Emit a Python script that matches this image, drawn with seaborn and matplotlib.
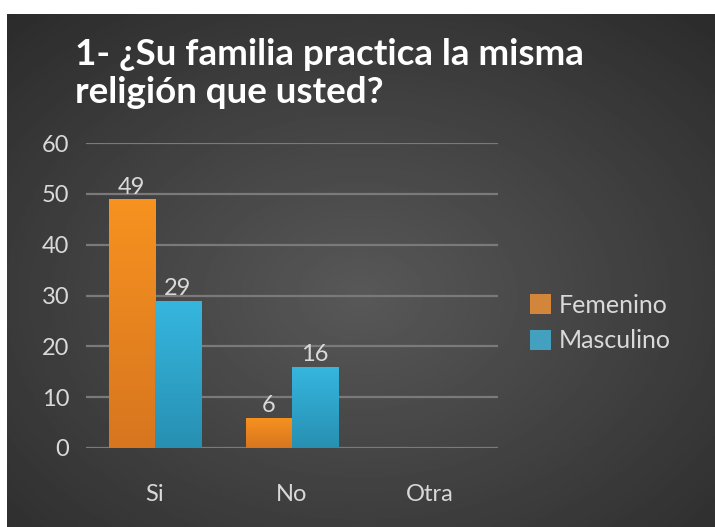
import numpy as np
import pandas as pd
import seaborn as sns
import matplotlib.pyplot as plt

categorias = ["Si", "No", "Otra"]
femenino = [49, 6, np.nan]
masculino = [29, 16, np.nan]
series = ["Femenino", "Masculino"]
titulo = "1- ¿Su familia practica la misma\nreligión que usted?"

df = pd.DataFrame({
    "respuesta": categorias * 2,
    "valor": femenino + masculino,
    "sexo": [series[0]] * 3 + [series[1]] * 3,
}).dropna()

sns.set_theme(style="dark")
plt.rcParams["font.family"] = ["Lato", "DejaVu Sans"]

fig = plt.figure(figsize=(7.15, 5.27), dpi=100, facecolor="white")

# dark background panel with radial gradient
bg = fig.add_axes([7 / 715, 0, 708 / 715, 513 / 527])
bg.set_axis_off()
yy, xx = np.mgrid[0:1:300j, 0:1:400j]
r = np.sqrt(((xx - 0.5) / 0.75) ** 2 + ((yy - 0.45) / 0.75) ** 2)
shade = (0x58 - (0x58 - 0x2b) * np.clip(r, 0, 1)) / 255
bg.imshow(shade, cmap="gray", vmin=0, vmax=1, aspect="auto", extent=[0, 1, 0, 1], origin="lower")

ax = fig.add_axes([86 / 715, 79 / 527, 412 / 715, 305 / 527])
ax.patch.set_alpha(0)
sns.barplot(data=df, x="respuesta", y="valor", hue="sexo", order=categorias,
            hue_order=series, palette=["#EC8522", "#2FAAD3"], width=0.67,
            linewidth=0, ax=ax, zorder=3)

# vertical gradients on bars
grad = [("#D7761F", "#F7921F"), ("#2790B2", "#36B6DF")]
for cont, (c_bot, c_top) in zip(ax.containers, grad):
    cmap = sns.blend_palette([c_bot, c_top], as_cmap=True)
    for p in cont.patches:
        x0, y0 = p.get_x(), p.get_y()
        w, h = p.get_width(), p.get_height()
        if h <= 0:
            continue
        img = ax.imshow(np.linspace(0, 1, 64).reshape(-1, 1), cmap=cmap, aspect="auto",
                        extent=[x0, x0 + w, y0, y0 + h], origin="lower", zorder=4)
        img.set_clip_path(p)
    ax.bar_label(cont, fmt="%g", color="#D9D9D9", fontsize=17, padding=1)

ax.set_xlim(-0.5, 2.5)
ax.set_ylim(0, 60)
ax.set_yticks(range(0, 61, 10))
ax.grid(axis="y", color="#7A7A7A", linewidth=1.6, zorder=1)
ax.grid(axis="x", visible=False)
ax.set_axisbelow(True)
for s in ax.spines.values():
    s.set_visible(False)
ax.set_xlabel("")
ax.set_ylabel("")
ax.tick_params(colors="#D9D9D9", labelsize=17, length=0)
ax.tick_params(axis="y", pad=12)
ax.tick_params(axis="x", pad=26)

leg = ax.legend(loc="center left", bbox_to_anchor=(530 / 715, 1 - 323 / 527),
                bbox_transform=fig.transFigure, frameon=False, fontsize=18,
                handlelength=0.85, handleheight=0.85, handletextpad=0.3,
                labelspacing=0.5, borderaxespad=0, borderpad=0)
for t in leg.get_texts():
    t.set_color("#D9D9D9")
for h in leg.legend_handles:
    h.set_edgecolor("none")

fig.text(75 / 715, 1 - 38 / 527, titulo, color="white", fontsize=26.5,
         fontweight="bold", va="top", ha="left", linespacing=1.2)

fig.savefig("out.png", dpi=100, facecolor="white")
